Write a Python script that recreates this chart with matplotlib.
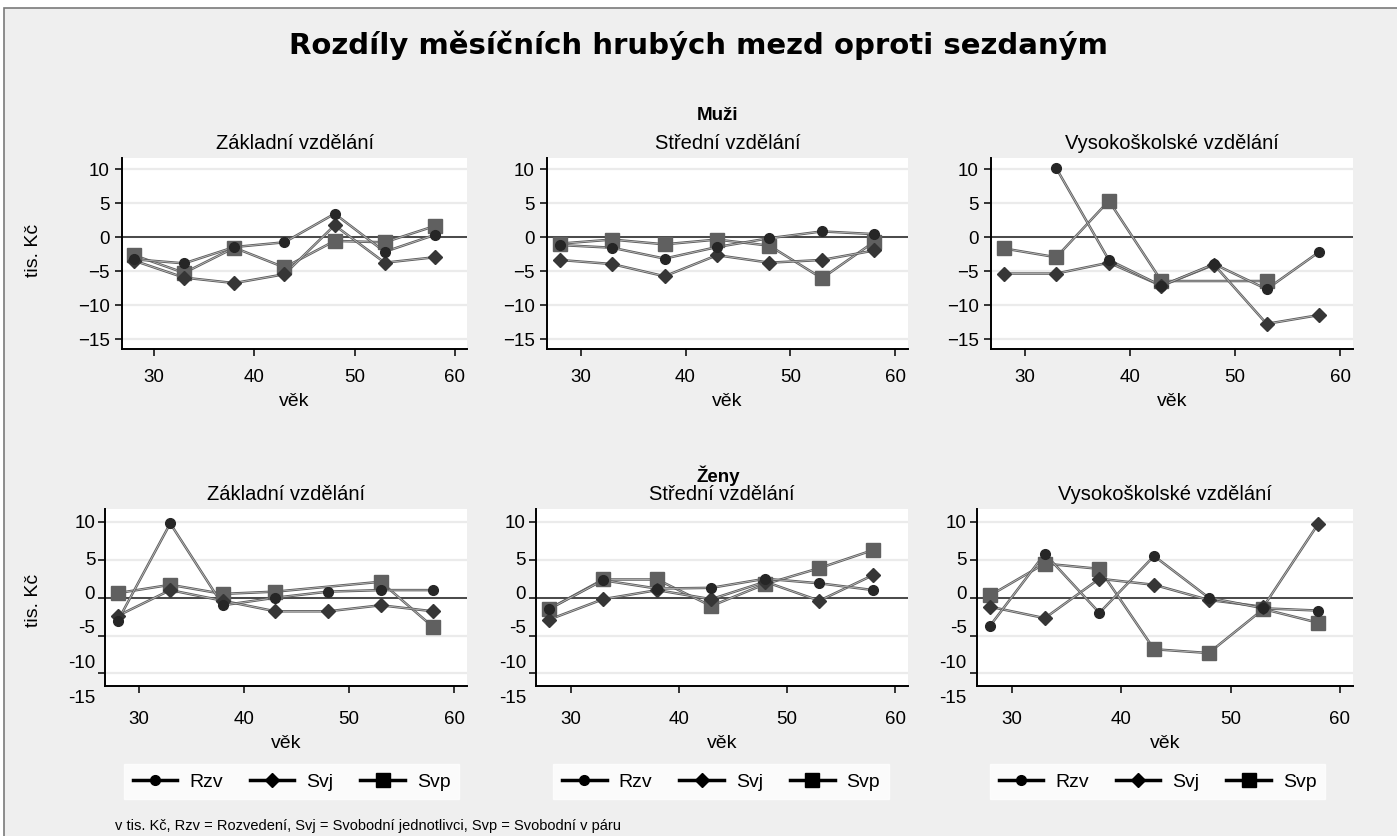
import matplotlib.pyplot as plt
import matplotlib.patheffects as pe
from matplotlib.lines import Line2D
from matplotlib.patches import Rectangle

plt.rcParams['font.family'] = ['Liberation Sans', 'DejaVu Sans']

# age groups (midpoints)
ages = [28, 33, 38, 43, 48, 53, 58]

# Muži (men), values in tis. Kč; None = no point
muzi_zakl_rzv = [-3.3, -3.9, -1.5, -0.8, 3.4, -2.2, 0.3]
muzi_zakl_svj = [-3.5, -6.0, -6.8, -5.5, 1.7, -3.8, -3.0]
muzi_zakl_svp = [-2.7, -5.3, -1.6, -4.5, -0.6, -0.8, 1.6]

muzi_stred_rzv = [-1.2, -1.6, -3.2, -1.5, -0.2, 0.8, 0.4]
muzi_stred_svj = [-3.4, -4.0, -5.8, -2.7, -3.8, -3.4, -2.0]
muzi_stred_svp = [-1.0, -0.4, -1.1, -0.4, -1.3, -6.1, -0.7]

muzi_vs_rzv = [None, 10.1, -3.4, -7.2, -4.0, -7.7, -2.2]
muzi_vs_svj = [-5.4, -5.4, -3.8, -7.2, -4.1, -12.8, -11.5]
muzi_vs_svp = [-1.7, -3.0, 5.3, -6.5, None, -6.5, None]

# Ženy (women)
zeny_zakl_rzv = [-3.1, 9.8, -1.0, 0.0, 0.8, 1.0, 1.0]
zeny_zakl_svj = [-2.4, 1.0, -0.4, -1.8, -1.8, -1.0, -1.8]
zeny_zakl_svp = [0.6, 1.7, 0.5, 0.8, None, 2.1, -3.9]

zeny_stred_rzv = [-1.5, 2.3, 1.2, 1.3, 2.5, 1.9, 1.0]
zeny_stred_svj = [-2.9, -0.2, 1.0, -0.2, 2.1, -0.4, 3.0]
zeny_stred_svp = [-1.5, 2.4, 2.4, -1.1, 1.8, 3.9, 6.3]

zeny_vs_rzv = [-3.7, 5.8, -2.0, 5.5, 0.0, -1.4, -1.7]
zeny_vs_svj = [-1.2, -2.7, 2.5, 1.7, -0.3, -1.2, 9.7]
zeny_vs_svp = [0.3, 4.5, 3.8, -6.8, -7.3, -1.5, -3.3]

panel_titles = ['Základní vzdělání', 'Střední vzdělání', 'Vysokoškolské vzdělání']
series_names = ['Rzv', 'Svj', 'Svp']
top_yticks = [10, 5, 0, -5, -10, -15]
bottom_yticks = [10, 5, 0, -5, -10]
bottom_ylabels = ['10', '5', '0', '-5', '-10', '-15']
bottom_label_pos = [9.9, 5.0, 0.6, -3.9, -8.5, -13.2]

W, H = 1397, 837
fig = plt.figure(figsize=(W / 100, H / 100), dpi=100, facecolor='white')
fig.patches.append(Rectangle((4 / W, -0.01), 1.02, 1 - 9 / H + 0.01, transform=fig.transFigure,
                             facecolor='#efefef', edgecolor='#7a7a7a', lw=1.2, zorder=-10))

styles = {
    'Svp': dict(marker='s', ms=10, color='#606060'),
    'Svj': dict(marker='D', ms=7, color='#363636'),
    'Rzv': dict(marker='o', ms=7, color='#262626'),
}
line_fx = [pe.Stroke(linewidth=1.8, foreground='#5e5e5e'), pe.Stroke(linewidth=0.5, foreground='#c8c8c8')]


def px_rect(left, right, top, bottom):
    return [left / W, 1 - bottom / H, (right - left) / W, (bottom - top) / H]


def draw_panel(ax, title, data, bottom_row):
    ax.set_facecolor('white')
    ax.axhline(0, color='#3a3a3a', lw=1.3, zorder=1.5)
    for name in ['Svp', 'Svj', 'Rzv']:
        vals = data[name]
        xs = [a for a, v in zip(ages, vals) if v is not None]
        ys = [v for v in vals if v is not None]
        st = styles[name]
        ax.plot(xs, ys, color='#5e5e5e', lw=1.8, path_effects=line_fx, zorder=2)
        ax.plot(xs, ys, linestyle='none', marker=st['marker'], ms=st['ms'],
                color=st['color'], mec=st['color'], zorder=3)
    ax.set_xlim(26.8, 61.2)
    ax.set_xticks([30, 40, 50, 60])
    for s in ['top', 'right']:
        ax.spines[s].set_visible(False)
    for s in ['left', 'bottom']:
        ax.spines[s].set_linewidth(1.4)
    ax.tick_params(direction='out', length=5, width=1.1, labelsize=13.5, pad=4)
    ax.yaxis.grid(True, color='#ebebeb', lw=1.6)
    ax.set_axisbelow(True)
    if bottom_row:
        ax.set_ylim(-11.65, 11.7)
        ax.set_yticks(bottom_yticks)
        ax.set_yticklabels([])
        for lbl, pos in zip(bottom_ylabels, bottom_label_pos):
            ax.text(-0.027, pos, lbl, transform=ax.get_yaxis_transform(), ha='right',
                    va='center', fontsize=13.5, clip_on=False)
        ax.tick_params(axis='x', pad=12.5)
    else:
        ax.set_ylim(-16.5, 11.6)
        ax.set_yticks(top_yticks)
        ax.tick_params(axis='x', pad=8.5)
    ax.set_title(title, fontsize=14.5, pad=7)
    ax.set_xlabel('věk', fontsize=14, labelpad=5)


top_rects = [px_rect(122, 467, 159, 350), px_rect(547, 908, 159, 350), px_rect(991, 1353, 159, 350)]
bottom_rects = [px_rect(105, 467, 510, 687), px_rect(536, 908, 510, 687), px_rect(977, 1353, 510, 687)]

men = [
    {'Rzv': muzi_zakl_rzv, 'Svj': muzi_zakl_svj, 'Svp': muzi_zakl_svp},
    {'Rzv': muzi_stred_rzv, 'Svj': muzi_stred_svj, 'Svp': muzi_stred_svp},
    {'Rzv': muzi_vs_rzv, 'Svj': muzi_vs_svj, 'Svp': muzi_vs_svp},
]
women = [
    {'Rzv': zeny_zakl_rzv, 'Svj': zeny_zakl_svj, 'Svp': zeny_zakl_svp},
    {'Rzv': zeny_stred_rzv, 'Svj': zeny_stred_svj, 'Svp': zeny_stred_svp},
    {'Rzv': zeny_vs_rzv, 'Svj': zeny_vs_svj, 'Svp': zeny_vs_svp},
]

for i in range(3):
    ax = fig.add_axes(top_rects[i])
    draw_panel(ax, panel_titles[i], men[i], False)
    if i == 0:
        ax.set_ylabel('tis. Kč', fontsize=14)
        ax.yaxis.set_label_coords((42 - 122) / 345, 0.52)
    ax2 = fig.add_axes(bottom_rects[i])
    draw_panel(ax2, panel_titles[i], women[i], True)
    if i == 0:
        ax2.set_ylabel('tis. Kč', fontsize=14)
        ax2.yaxis.set_label_coords((42 - 105) / 362, 0.49)

fig.text(0.5, 1 - 45 / H, 'Rozdíly měsíčních hrubých mezd oproti sezdaným', ha='center', va='center',
         fontsize=21, fontweight='bold', family=['DejaVu Sans'])
fig.text(718 / W, 1 - 116 / H, 'Muži', ha='center', va='center', fontsize=13.5, fontweight='bold')
fig.text(718 / W, 1 - 476 / H, 'Ženy', ha='center', va='center', fontsize=13.5, fontweight='bold')

handles = [Line2D([], [], color='black', lw=2.5, marker=styles[n]['marker'],
                  ms=styles[n]['ms'], mfc='black', mec='black') for n in series_names]
for cx in [291.5, 721, 1157.5]:
    leg = fig.legend(handles, series_names, loc='center', bbox_to_anchor=(cx / W, 1 - 782.5 / H),
                     ncol=3, fontsize=14, frameon=True, fancybox=False, handlelength=2.3,
                     handletextpad=0.6, columnspacing=1.4, borderpad=0.45)
    leg.get_frame().set_facecolor('white')
    leg.get_frame().set_edgecolor('white')

fig.text(115 / W, 1 - 826 / H, 'v tis. Kč, Rzv = Rozvedení, Svj = Svobodní jednotlivci, Svp = Svobodní v páru',
         ha='left', va='center', fontsize=10.5)

fig.savefig('out.png', dpi=100)
